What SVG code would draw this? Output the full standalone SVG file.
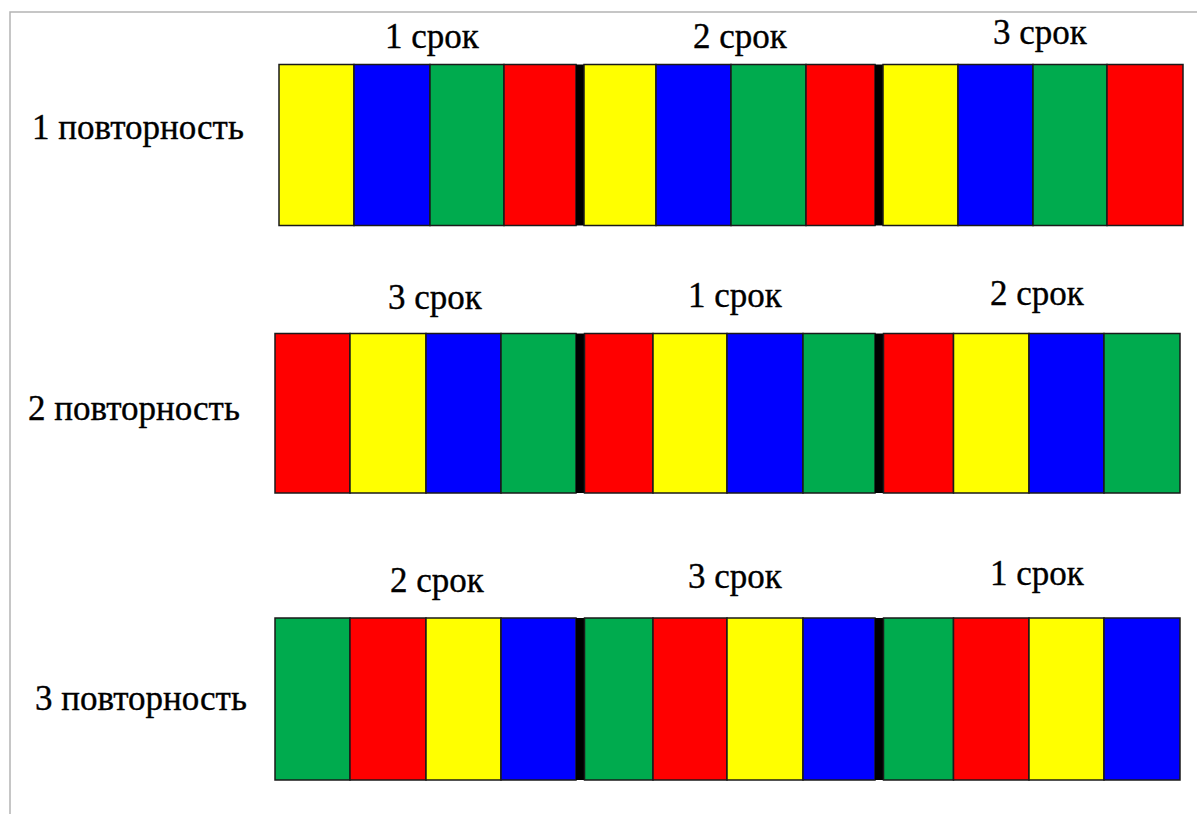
<svg xmlns="http://www.w3.org/2000/svg" width="1197" height="814" viewBox="0 0 1197 814">
  <style>
    .frame { fill: none; stroke: #b4b4b4; stroke-width: 1.5; }
    .cell { stroke: #1a1a1a; stroke-width: 1.5; }
    .y { fill: #ffff00; }
    .b { fill: #0000ff; }
    .g { fill: #00ab4e; }
    .r { fill: #ff0000; }
    .sep { fill: #000000; }
    .lbl { font-family: "Liberation Serif", serif; font-size: 35px; fill: #000; stroke: #000; stroke-width: 0.35; }
  </style>

  <!-- page frame -->
  <polyline class="frame" points="10,814 10,12 1197,12"/>

  <!-- replicate 1 -->
  <g id="rep1">
    <text class="lbl" x="32" y="139">1 повторность</text>
    <text class="lbl" x="385" y="48">1 срок</text>
    <text class="lbl" x="693" y="48">2 срок</text>
    <text class="lbl" x="993" y="44">3 срок</text>
    <rect class="cell y" x="279" y="64.5" width="75" height="161"/>
    <rect class="cell b" x="354" y="64.5" width="76" height="161"/>
    <rect class="cell g" x="430" y="64.5" width="74" height="161"/>
    <rect class="cell r" x="504" y="64.5" width="72" height="161"/>
    <rect class="sep" x="576" y="64.5" width="8" height="161"/>
    <rect class="cell y" x="584" y="64.5" width="72" height="161"/>
    <rect class="cell b" x="656" y="64.5" width="75" height="161"/>
    <rect class="cell g" x="731" y="64.5" width="75" height="161"/>
    <rect class="cell r" x="806" y="64.5" width="69" height="161"/>
    <rect class="sep" x="875" y="64.5" width="8" height="161"/>
    <rect class="cell y" x="883" y="64.5" width="75" height="161"/>
    <rect class="cell b" x="958" y="64.5" width="75" height="161"/>
    <rect class="cell g" x="1033" y="64.5" width="74" height="161"/>
    <rect class="cell r" x="1107" y="64.5" width="76" height="161"/>
  </g>

  <!-- replicate 2 -->
  <g id="rep2">
    <text class="lbl" x="28" y="420">2 повторность</text>
    <text class="lbl" x="388" y="309">3 срок</text>
    <text class="lbl" x="688" y="307">1 срок</text>
    <text class="lbl" x="990" y="305">2 срок</text>
    <rect class="cell r" x="275" y="333.5" width="75" height="159.5"/>
    <rect class="cell y" x="350" y="333.5" width="76" height="159.5"/>
    <rect class="cell b" x="426" y="333.5" width="75" height="159.5"/>
    <rect class="cell g" x="501" y="333.5" width="75" height="159.5"/>
    <rect class="sep" x="576" y="333.5" width="8.5" height="159.5"/>
    <rect class="cell r" x="584.5" y="333.5" width="68.5" height="159.5"/>
    <rect class="cell y" x="653" y="333.5" width="74" height="159.5"/>
    <rect class="cell b" x="727" y="333.5" width="76" height="159.5"/>
    <rect class="cell g" x="803" y="333.5" width="72" height="159.5"/>
    <rect class="sep" x="875" y="333.5" width="8.5" height="159.5"/>
    <rect class="cell r" x="883.5" y="333.5" width="70" height="159.5"/>
    <rect class="cell y" x="953.5" y="333.5" width="75.5" height="159.5"/>
    <rect class="cell b" x="1029" y="333.5" width="75" height="159.5"/>
    <rect class="cell g" x="1104" y="333.5" width="76" height="159.5"/>
  </g>

  <!-- replicate 3 -->
  <g id="rep3">
    <text class="lbl" x="35" y="710">3 повторность</text>
    <text class="lbl" x="390" y="592">2 срок</text>
    <text class="lbl" x="688" y="588">3 срок</text>
    <text class="lbl" x="990" y="585">1 срок</text>
    <rect class="cell g" x="275" y="618" width="75" height="162"/>
    <rect class="cell r" x="350" y="618" width="76" height="162"/>
    <rect class="cell y" x="426" y="618" width="75" height="162"/>
    <rect class="cell b" x="501" y="618" width="75" height="162"/>
    <rect class="sep" x="576" y="618" width="8.5" height="162"/>
    <rect class="cell g" x="584.5" y="618" width="68.5" height="162"/>
    <rect class="cell r" x="653" y="618" width="74" height="162"/>
    <rect class="cell y" x="727" y="618" width="76" height="162"/>
    <rect class="cell b" x="803" y="618" width="72" height="162"/>
    <rect class="sep" x="875" y="618" width="8.5" height="162"/>
    <rect class="cell g" x="883.5" y="618" width="70" height="162"/>
    <rect class="cell r" x="953.5" y="618" width="75.5" height="162"/>
    <rect class="cell y" x="1029" y="618" width="75" height="162"/>
    <rect class="cell b" x="1104" y="618" width="76" height="162"/>
  </g>
</svg>
